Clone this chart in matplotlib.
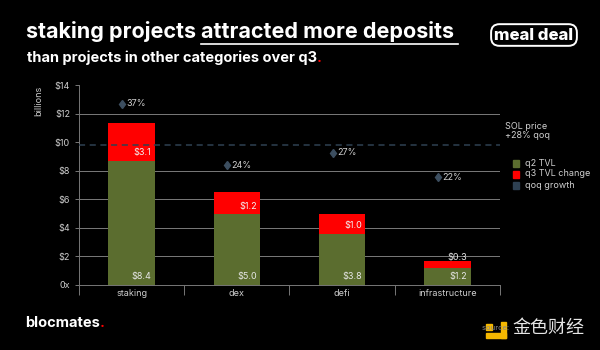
import numpy as np
import matplotlib.pyplot as plt
from matplotlib.patches import Rectangle

plt.rcParams['font.family'] = ['Inter', 'DejaVu Sans']

categories = ['staking', 'dex', 'defi', 'infrastructure']
q2_tvl = [8.7, 4.95, 3.6, 1.2]          # bar heights
q3_total = [11.35, 6.5, 4.97, 1.7]
q2_labels = ['$8.4', '$5.0', '$3.8', '$1.2']
q3_labels = ['$3.1', '$1.2', '$1.0', '$0.3']
qoq_growth = ['37%', '24%', '27%', '22%']
qoq_y = [12.7, 8.4, 9.25, 7.55]
sol_price_level = 9.8
yticks = [0, 2, 4, 6, 8, 10, 12, 14]
ytick_labels = ['0x', '$2', '$4', '$6', '$8', '$10', '$12', '$14']

green = '#5b6d2f'
red = '#ff0000'
slate = '#2e4052'
grey = '#cfcfcf'

fig = plt.figure(figsize=(6, 3.5), dpi=100, facecolor='black')
ax = fig.add_axes([79/600, 65/350, 421/600, 200/350], facecolor='black')

x = np.arange(len(categories))
q3_change = np.array(q3_total) - np.array(q2_tvl)
ax.bar(x, q2_tvl, width=0.44, color=green, zorder=2)
ax.bar(x, q3_change, bottom=q2_tvl, width=0.44, color=red, zorder=2)

for yv in [2, 4, 6, 8, 12]:
    ax.axhline(yv, color='#7a7a7a', lw=0.7, zorder=1)
ax.axhline(sol_price_level, color=slate, lw=1.1, ls=(0, (4, 3)), zorder=3)

for i in range(len(categories)):
    ax.text(x[i] + 0.19, 0.25, q2_labels[i], color='#e6e6e6', fontsize=6.5,
            ha='right', va='bottom', zorder=4)
    if q3_change[i] > 0.8:
        ax.text(x[i] + 0.19, q2_tvl[i] + 0.25, q3_labels[i], color='#f2f2f2',
                fontsize=6.5, ha='right', va='bottom', zorder=4)
    else:
        ax.text(x[i] + 0.19, q3_total[i] - 0.1, q3_labels[i], color='#e6e6e6',
                fontsize=6.5, ha='right', va='bottom', zorder=4)
    ax.plot(x[i] - 0.09, qoq_y[i], marker='d', color='#3c4e60', ms=4.5, zorder=4)
    ax.text(x[i] - 0.05, qoq_y[i], qoq_growth[i], color=grey, fontsize=6.5,
            ha='left', va='center', zorder=4)

ax.set_xlim(-0.5, 3.5)
ax.set_ylim(0, 14)
ax.set_yticks(yticks)
ax.set_yticklabels(ytick_labels)
ax.set_xticks(np.arange(-0.5, 4, 1))
ax.set_xticklabels([])
ax.set_xticks(x, minor=True)
ax.set_xticklabels(categories, minor=True)
ax.tick_params(axis='x', which='major', length=7, color='#777', width=0.7)
ax.tick_params(axis='x', which='minor', length=0, colors=grey, labelsize=6.5, pad=3)
ax.tick_params(axis='y', length=3, color='#777', width=0.7, colors=grey, labelsize=6.5)
for s in ['top', 'right']:
    ax.spines[s].set_visible(False)
for s in ['left', 'bottom']:
    ax.spines[s].set_color('#777')
    ax.spines[s].set_linewidth(0.7)
ax.set_ylabel('billions', color=grey, fontsize=6.5)
ax.yaxis.set_label_coords(-0.085, 0.92)

# legend block on the right
fig.text(505/600, 1 - 131/350, 'SOL price\n+28% qoq', color=grey, fontsize=6.5,
         va='center', ha='left', linespacing=1.1)
leg_items = [('q2 TVL', green), ('q3 TVL change', red), ('qoq growth', slate)]
for k, (lab, col) in enumerate(leg_items):
    yy = 1 - (163 + k * 11) / 350
    fig.patches.append(Rectangle((513/600, yy - 3.5/350), 6/600, 7/350,
                                 transform=fig.transFigure, color=col))
    fig.text(525/600, yy, lab, color=grey, fontsize=6.5, va='center', ha='left')

# title
r = fig.canvas.get_renderer()
t1 = fig.text(26/600, 1 - 38/350, 'staking projects ', color='white', fontsize=15.5,
              fontweight='bold', va='baseline')
bb = t1.get_window_extent(r)
t2 = fig.text(bb.x1 / 600, 1 - 38/350, 'attracted more deposits', color='white',
              fontsize=15.5, fontweight='bold', va='baseline')
bb2 = t2.get_window_extent(r)
fig.add_artist(plt.Line2D([bb.x1 / 600, (bb2.x1 + 4) / 600], [1 - 44/350, 1 - 44/350],
                          color='white', lw=1.2, transform=fig.transFigure))
s1 = fig.text(27/600, 1 - 62/350, 'than projects in other categories over q3', color='white',
              fontsize=10.5, fontweight='bold', va='baseline')
sb = s1.get_window_extent(r)
fig.text(sb.x1 / 600, 1 - 62/350, '.', color=red, fontsize=10.5, fontweight='bold',
         va='baseline')

fig.text(534/600, 1 - 35/350, 'meal deal', color='white', fontsize=12, fontweight='heavy',
         ha='center', va='center',
         bbox=dict(boxstyle='round,pad=0.2,rounding_size=0.5', fc='black', ec='white', lw=1.4))

# footer
b1 = fig.text(25/600, 1 - 327/350, 'blocmates', color='white', fontsize=10.5,
              fontweight='bold', va='baseline')
bbb = b1.get_window_extent(r)
fig.text(bbb.x1 / 600, 1 - 327/350, '.', color=red, fontsize=10.5, fontweight='bold',
         va='baseline')
fig.patches.append(Rectangle((486/600, 1 - 338/350), 20/600, 5/350,
                             transform=fig.transFigure, color='#f5b800'))
fig.patches.append(Rectangle((501/600, 1 - 338/350), 5/600, 16/350,
                             transform=fig.transFigure, color='#f5b800'))
fig.patches.append(Rectangle((486/600, 1 - 330/350), 6/600, 6/350,
                             transform=fig.transFigure, color='#f5b800'))
fig.text(482/600, 1 - 328/350, 'source: ', color='#888', fontsize=5.5, va='center')
fig.text(512/600, 1 - 328/350, '金色财经', color='white', fontsize=13,
         family=['Noto Sans CJK SC', 'DejaVu Sans'], va='center', alpha=0.9)

fig.savefig('out.png', dpi=100, facecolor='black')
